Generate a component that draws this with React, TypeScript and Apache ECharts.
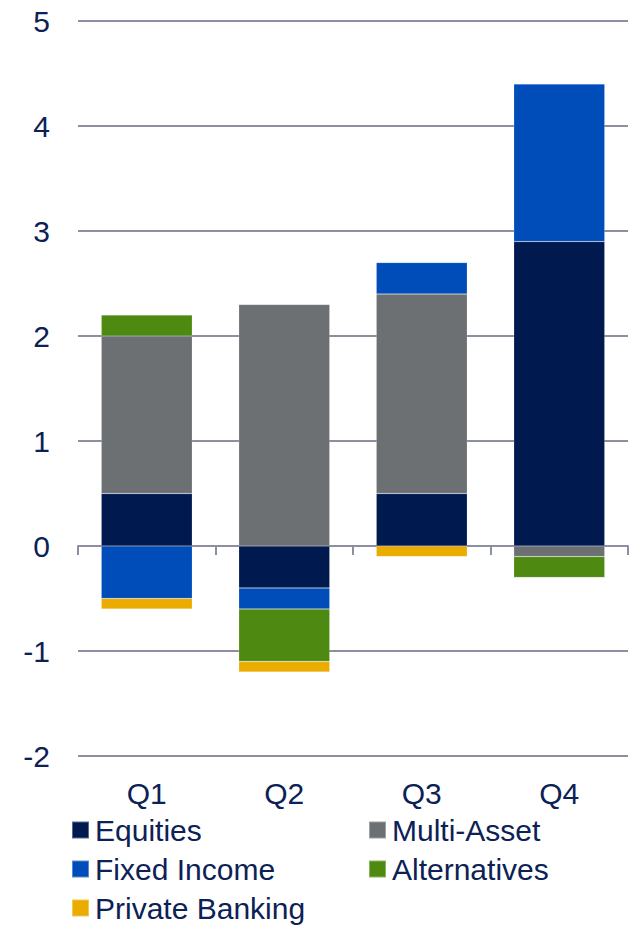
import React, { useEffect, useRef } from "react";
import * as echarts from "echarts";

const categories = ["Q1", "Q2", "Q3", "Q4"];
const equities = [0.5, -0.4, 0.5, 2.9];
const multiAsset = [1.5, 2.3, 1.9, -0.1];
const fixedIncome = [-0.5, -0.2, 0.3, 1.5];
const alternatives = [0.2, -0.5, 0, -0.2];
const privateBanking = [-0.1, -0.1, -0.1, 0];

const seriesDefs = [
  { name: "Equities", data: equities, color: "#001A50" },
  { name: "Multi-Asset", data: multiAsset, color: "#6C7073" },
  { name: "Fixed Income", data: fixedIncome, color: "#004DBA" },
  { name: "Alternatives", data: alternatives, color: "#4E8A12" },
  { name: "Private Banking", data: privateBanking, color: "#EBAC00" },
];

const FONT = "'Liberation Sans', Arial, sans-serif";
const TEXT = "#0C2155";
const GRID = "#8C8FA0";

export default function App() {
  const ref = useRef<HTMLDivElement>(null);
  useEffect(() => {
    document.body.style.margin = "0";
    const chart = echarts.init(ref.current!, null, { renderer: "svg" });
    const legendCommon = {
      orient: "vertical" as const,
      icon: "rect",
      itemWidth: 17,
      itemHeight: 17,
      itemGap: 9,
      padding: 0,
      selectedMode: false,
      textStyle: {
        fontSize: 30,
        color: TEXT,
        fontFamily: FONT,
        lineHeight: 30,
        padding: [0, 0, 0, 1],
      },
    };
    chart.setOption({
      animation: false,
      textStyle: { fontFamily: FONT },
      grid: { left: 78, right: 4, top: 21, bottom: 169 },
      legend: [
        { ...legendCommon, left: 71, top: 815, data: ["Equities", "Fixed Income", "Private Banking"] },
        { ...legendCommon, left: 368, top: 815, data: ["Multi-Asset", "Alternatives"] },
      ],
      xAxis: [
        {
          type: "category",
          data: categories,
          position: "bottom",
          axisLine: { show: false, onZero: false },
          axisTick: { show: false },
          axisLabel: { fontSize: 30, color: TEXT, fontFamily: FONT, margin: 22 },
        },
        {
          type: "category",
          data: categories,
          position: "bottom",
          axisLine: { show: true, onZero: true, lineStyle: { color: GRID, width: 2 } },
          axisTick: { show: true, length: 9, lineStyle: { color: GRID, width: 2 } },
          axisLabel: { show: false },
        },
      ],
      yAxis: {
        type: "value",
        min: -2,
        max: 5,
        interval: 1,
        axisLine: { show: false },
        axisTick: { show: false },
        axisLabel: { fontSize: 30, color: TEXT, fontFamily: FONT, margin: 28 },
        splitLine: { lineStyle: { color: GRID, width: 2 } },
      },
      series: seriesDefs.map((s) => ({
        name: s.name,
        type: "bar",
        stack: "total",
        xAxisIndex: 0,
        barWidth: 91,
        data: s.data,
        itemStyle: { color: s.color, borderColor: "rgba(255,255,255,0.35)", borderWidth: 0.5 },
        z: 3,
      })),
    });
    return () => chart.dispose();
  }, []);
  return <div ref={ref} style={{ width: 632, height: 925 }} />;
}
